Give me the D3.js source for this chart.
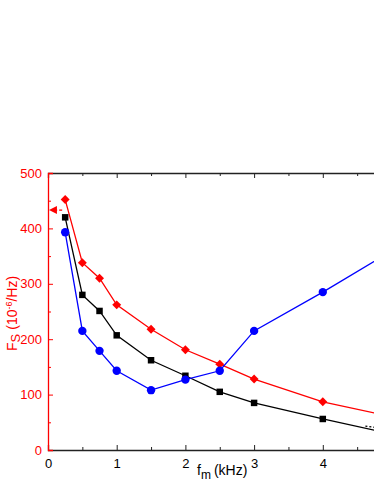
<!DOCTYPE html>
<html>
<head>
<meta charset="utf-8">
<script src="https://cdn.jsdelivr.net/npm/d3@7"></script>
<style>
  body { margin: 0; background: #fff; }
  svg { display: block; font-family: "Liberation Sans", Arial, sans-serif; }
</style>
</head>
<body>
<svg id="chart"></svg>
<script>
const freq = [0.25, 0.5, 0.75, 1, 1.5, 2, 2.5, 3, 4, 5];
const redVals = [452, 338, 310, 262, 218, 181, 155, 128, 87, 60];
const blackVals = [420, 280, 251, 207, 162, 134, 105, 85, 56, 29];
const blueVals = [393, 215, 179, 143, 108, 127, 143, 215, 285, 359];
const xTicks = [0, 1, 2, 3, 4];
const yTicks = [0, 100, 200, 300, 400, 500];

const width = 374;
const height = 484;

const svg = d3.select("#chart")
    .attr("width", width)
    .attr("height", height);

const x = d3.scaleLinear().domain([0, 5]).range([48, 391.5]);
const y = d3.scaleLinear().domain([0, 500]).range([450, 173]);

// axes (ticks point inward)
svg.append("g")
    .attr("transform", "translate(0,450)")
    .call(d3.axisBottom(x).tickValues(xTicks).tickSize(-5).tickPadding(9).tickFormat(d3.format("d")))
    .call(g => g.select(".domain").attr("stroke", "#222").attr("stroke-width", 1.3))
    .call(g => g.selectAll(".tick line").attr("stroke", "#222"))
    .call(g => g.selectAll("text").attr("font-size", 13).attr("fill", "#000"));
svg.append("g")
    .attr("transform", "translate(0,450)")
    .call(d3.axisBottom(x).tickValues(d3.range(0.5, 5, 1)).tickSize(-3).tickFormat(""))
    .call(g => g.select(".domain").remove())
    .call(g => g.selectAll(".tick line").attr("stroke", "#222"));

svg.append("g")
    .attr("transform", "translate(0,173)")
    .call(d3.axisTop(x).tickValues(xTicks).tickSize(-5).tickFormat(""))
    .call(g => g.select(".domain").attr("stroke", "#222").attr("stroke-width", 1.3))
    .call(g => g.selectAll(".tick line").attr("stroke", "#222"));
svg.append("g")
    .attr("transform", "translate(0,173)")
    .call(d3.axisTop(x).tickValues(d3.range(0.5, 5, 1)).tickSize(-3).tickFormat(""))
    .call(g => g.select(".domain").remove())
    .call(g => g.selectAll(".tick line").attr("stroke", "#222"));

svg.append("g")
    .attr("transform", "translate(48,0)")
    .call(d3.axisLeft(y).tickValues(yTicks).tickSize(-5).tickPadding(6))
    .call(g => g.select(".domain").attr("stroke", "red").attr("stroke-width", 1.3))
    .call(g => g.selectAll(".tick line").attr("stroke", "red"))
    .call(g => g.selectAll("text").attr("font-size", 13).attr("fill", "red"));
svg.append("g")
    .attr("transform", "translate(48,0)")
    .call(d3.axisLeft(y).tickValues(d3.range(50, 500, 100)).tickSize(-3).tickFormat(""))
    .call(g => g.select(".domain").remove())
    .call(g => g.selectAll(".tick line").attr("stroke", "red"));

// series
const line = vals => d3.line().x((d, i) => x(freq[i])).y(d => y(d))(vals);

const series = [
    { vals: redVals, color: "red", shape: d3.symbolSquare, size: 40, rot: 45 },
    { vals: blackVals, color: "black", shape: d3.symbolSquare, size: 42, rot: 0 },
    { vals: blueVals, color: "blue", shape: d3.symbolCircle, size: 55, rot: 0 }
];

// dotted fit near lower right
svg.append("line")
    .attr("x1", x(4.62)).attr("y1", y(43))
    .attr("x2", x(4.75)).attr("y2", y(41))
    .attr("stroke", "#000").attr("stroke-width", 1.3)
    .attr("stroke-dasharray", "2,2");

series.forEach(s => {
    svg.append("path")
        .attr("d", line(s.vals))
        .attr("fill", "none")
        .attr("stroke", s.color)
        .attr("stroke-width", 1.3);
    svg.selectAll(null)
        .data(s.vals)
        .enter()
        .append("path")
        .attr("transform", (d, i) => `translate(${x(freq[i])},${y(d)}) rotate(${s.rot})`)
        .attr("d", d3.symbol().type(s.shape).size(s.size))
        .attr("fill", s.color);
});

// red arrow to axis
svg.append("line")
    .attr("x1", x(0.25) - 3).attr("y1", y(433))
    .attr("x2", x(0.1)).attr("y2", y(433))
    .attr("stroke", "red").attr("stroke-width", 1.3)
    .attr("stroke-dasharray", "3,2");
svg.append("path")
    .attr("d", `M${x(0) + 1},${y(433)} L${x(0.13)},${y(433) - 4} L${x(0.13)},${y(433) + 4} Z`)
    .attr("fill", "red");

// axis labels
const xl = svg.append("text")
    .attr("x", 197).attr("y", 475)
    .attr("font-size", 14).attr("fill", "#000");
xl.append("tspan").text("f");
xl.append("tspan").attr("dy", 4).attr("font-size", 12).text("m");
xl.append("tspan").attr("dy", -4).attr("dx", 3).text("(kHz)");

const yl = svg.append("text")
    .attr("transform", "translate(17,351) rotate(-90)")
    .attr("font-size", 14).attr("fill", "red");
yl.append("tspan").text("F");
yl.append("tspan").attr("dy", 3).attr("font-size", 13).text("S");
yl.append("tspan").attr("dy", -3).attr("dx", 4).text("(10");
yl.append("tspan").attr("dy", -5).attr("font-size", 9).text("-6");
yl.append("tspan").attr("dy", 5).text("/Hz)");
</script>
</body>
</html>
